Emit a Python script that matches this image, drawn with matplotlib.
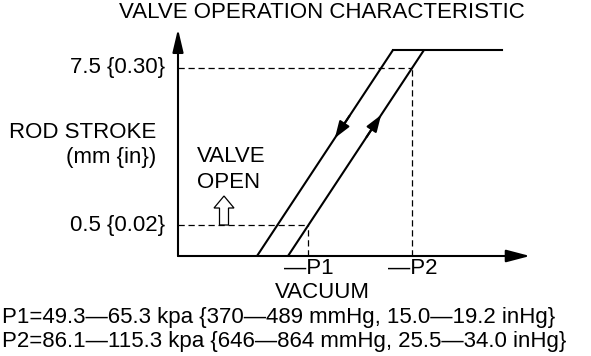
"""
Valve operation characteristic (schematic): rod stroke vs. vacuum.
"""

import matplotlib.pyplot as plt
from matplotlib.patches import FancyArrow
import numpy as np

plt.rcParams.update({'font.size': 16, 'font.family': 'Liberation Sans'})

# schematic data (units ~ pixels from the origin)
stroke_ticks = [31, 188]
stroke_labels = ['0.5 {0.02}', '7.5 {0.30}']
stroke_top = 206

# closing (left) and opening (right) branches, then the flat top
close_x = [79, 215]
close_y = [0, stroke_top]
open_x = [110, 246]
open_y = [0, stroke_top]
flat_x = [215, 324]

p_labels = ['P1', 'P2']
p_strokes = [31, 188]   # P1 read at 0.5 mm, P2 at 7.5 mm

notes = ['P1=49.3\u201465.3 kpa {370\u2014489 mmHg, 15.0\u201419.2 inHg}',
         'P2=86.1\u2014115.3 kpa {646\u2014864 mmHg, 25.5\u201434.0 inHg}']

x_end, y_end = 352, 227

W, H = 591, 356
fig = plt.figure(figsize=(W / 100, H / 100), dpi=100)
ox, oy = 178, 256  # origin in pixels
ax = fig.add_axes([ox / W, (H - oy) / H, x_end / W, y_end / H])
ax.set_xlim(0, x_end)
ax.set_ylim(0, y_end)
ax.axis('off')

lw = 1.5
# axes with arrows
ax.annotate('', xy=(x_end, 0), xytext=(0, 0), annotation_clip=False,
            arrowprops=dict(arrowstyle='-|>,head_length=1.45,head_width=0.38',
                            lw=lw, color='black', shrinkA=0, shrinkB=0,
                            mutation_scale=10))
ax.annotate('', xy=(0, y_end), xytext=(0, 0), annotation_clip=False,
            arrowprops=dict(arrowstyle='-|>,head_length=1.4,head_width=0.33',
                            lw=lw, color='black', shrinkA=0, shrinkB=0,
                            mutation_scale=10))

# curves
ax.plot(close_x, close_y, color='black', lw=lw, solid_capstyle='butt')
ax.plot(open_x, open_y, color='black', lw=lw, solid_capstyle='butt')
ax.plot(flat_x, [stroke_top, stroke_top], color='black', lw=lw)

# direction arrows on the branches
def mid_arrow(xs, ys, y_tip, y_tail):
    x_tip = np.interp(y_tip, ys, xs)
    x_tail = np.interp(y_tail, ys, xs)
    ax.annotate('', xy=(x_tip, y_tip), xytext=(x_tail, y_tail),
                arrowprops=dict(arrowstyle='-|>,head_length=1.0,head_width=0.35',
                                lw=lw, color='black', shrinkA=0, shrinkB=0,
                                mutation_scale=10))

mid_arrow(close_x, close_y, 118, 140)
mid_arrow(open_x, open_y, 141, 119)

# dashed reference lines
for s, lab in zip(p_strokes, p_labels):
    px = np.interp(s, open_y, open_x)
    ax.plot([0, px], [s, s], color='black', lw=0.9, ls=(0, (5, 3)))
    ax.plot([px, px], [0, s], color='black', lw=0.9, ls=(0, (5, 3)))
    ax.text(px - 24, -12, '\u2014' + lab, ha='left', va='center', clip_on=False)

# tick labels
for s, lab in zip(stroke_ticks, stroke_labels):
    ax.text(-13, s, lab, ha='right', va='center', clip_on=False)

# hollow "valve open" arrow
ax.add_patch(FancyArrow(46, stroke_ticks[0], 0, 29, width=9, head_width=20,
                        head_length=12, length_includes_head=True,
                        fill=False, ec='black', lw=0.9, clip_on=False))

ax.text(19, 99, 'VALVE', ha='left', va='center', clip_on=False)
ax.text(19, 73, 'OPEN', ha='left', va='center', clip_on=False)

ax.text(-22, 123, 'ROD STROKE', ha='right', va='center', clip_on=False)
ax.text(-22, 98, '(mm {in})', ha='right', va='center', clip_on=False)

ax.text(144, 243, 'VALVE OPERATION CHARACTERISTIC', ha='center', va='center',
        clip_on=False)
ax.text(144, -36, 'VACUUM', ha='center', va='center', clip_on=False)

for i, note in enumerate(notes):
    ax.text(-176, -61 - 25 * i, note, ha='left', va='center', clip_on=False)

fig.savefig('out.png', dpi=100)
